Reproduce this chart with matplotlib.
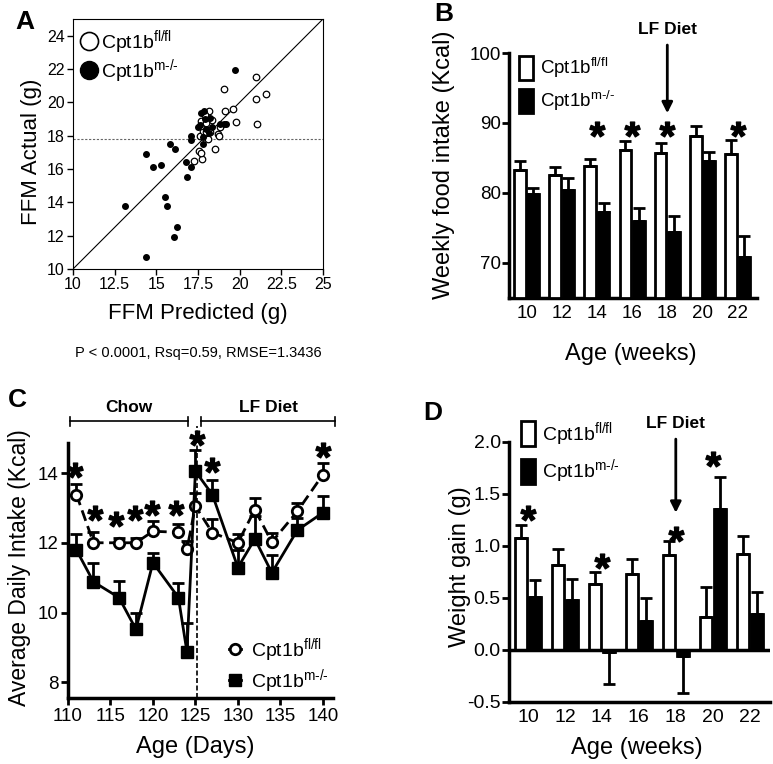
import matplotlib
matplotlib.use('Agg')
import matplotlib.pyplot as plt
import numpy as np
from matplotlib.lines import Line2D
from matplotlib.patches import Patch

plt.rcParams['font.family'] = 'Liberation Sans'
plt.rcParams['mathtext.fontset'] = 'custom'
plt.rcParams['mathtext.rm'] = 'Liberation Sans'
plt.rcParams['mathtext.it'] = 'Liberation Sans:italic'
plt.rcParams['mathtext.bf'] = 'Liberation Sans:bold'
plt.rcParams['axes.unicode_minus'] = False

WT = r'Cpt1b$^{\mathregular{fl/fl}}$'
KO = r'Cpt1b$^{\mathregular{m\text{-}/\text{-}}}$'

# A: FFM predicted vs actual
a_wt_x = [20.96, 19.04, 21.56, 20.96, 19.6, 19.1, 19.76, 21.06, 18.14, 18.5, 17.74, 17.24, 17.56, 17.68,
          18.7, 18.76, 18.1, 17.6, 17.8, 18.0, 18.2, 17.66, 18.32, 18.8, 17.7, 18.0, 17.94]
a_wt_y = [21.5, 20.8, 20.5, 20.2, 19.6, 19.5, 18.8, 18.7, 19.5, 17.2, 16.6, 16.5, 17.1, 16.96,
          18.1, 18.0, 17.8, 17.96, 18.3, 18.2, 18.2, 18.9, 18.96, 18.5, 18.6, 18.76, 19.24]
a_ko_x = [19.7, 13.1, 14.4, 14.8, 15.26, 15.84, 16.1, 15.5, 15.66, 16.22, 16.04, 14.36, 16.8, 17.06, 16.86,
          17.1, 17.06, 17.5, 17.7, 17.84, 17.9, 18.0, 18.2, 18.36, 17.8, 17.8, 18.8, 19.04, 19.16, 17.6, 18.16]
a_ko_y = [21.92, 13.8, 16.9, 16.1, 16.22, 17.5, 17.2, 14.32, 13.8, 12.5, 11.9, 10.7, 16.4, 16.1, 15.5,
          18.0, 17.76, 18.5, 19.36, 19.46, 19.0, 18.4, 19.06, 18.52, 17.5, 17.9, 18.7, 18.7, 18.7, 18.66, 18.16]
a_mean_y = 17.8

# B: weekly food intake
weeks = [10, 12, 14, 16, 18, 20, 22]
b_wt = [83.3, 82.6, 83.8, 86.1, 85.7, 88.2, 85.6]
b_wt_err = [1.2, 1.1, 1.1, 1.3, 1.4, 1.3, 1.9]
b_ko = [79.8, 80.4, 77.3, 76.0, 74.4, 84.6, 70.8]
b_ko_err = [0.9, 1.7, 1.3, 1.8, 2.3, 1.3, 3.1]
b_star_x = [14, 16, 18, 22]
b_star_y = [89.2, 89.2, 89.2, 89.2]

# C: average daily intake
days = [111, 113, 116, 118, 120, 123, 124, 125, 127, 130, 132, 134, 137, 140]
c_wt = [13.38, 12.0, 12.0, 12.0, 12.33, 12.3, 11.81, 13.05, 12.29, 12.0, 12.95, 12.02, 12.9, 13.95]
c_wt_err = [0.3, 0.3, 0.15, 0.15, 0.3, 0.25, 0.25, 0.38, 0.38, 0.24, 0.33, 0.27, 0.24, 0.33]
c_ko = [11.79, 10.88, 10.43, 9.52, 11.43, 10.43, 8.88, 14.05, 13.38, 11.29, 12.11, 11.14, 12.36, 12.86]
c_ko_err = [0.45, 0.55, 0.48, 0.48, 0.28, 0.43, 0.83, 0.62, 0.43, 0.5, 0.65, 0.5, 0.35, 0.47]
c_star_x = [110.8, 113.2, 115.7, 117.9, 119.9, 122.7, 125.2, 127.0, 140]
c_star_y = [14.1, 12.86, 12.67, 12.86, 13.0, 13.0, 15.0, 14.24, 14.67]
diet_switch = 125.2

# D: weight gain
d_wt = [1.08, 0.82, 0.63, 0.73, 0.91, 0.32, 0.92]
d_wt_err = [0.12, 0.15, 0.12, 0.145, 0.135, 0.29, 0.18]
d_ko = [0.51, 0.48, -0.02, 0.28, -0.06, 1.36, 0.35]
d_ko_err = [0.16, 0.20, 0.31, 0.22, 0.35, 0.30, 0.21]
d_star_x = [10, 14, 18, 20]
d_star_y = [1.32, 0.86, 1.12, 1.84]

W, H = 773, 764
fig = plt.figure(figsize=(W / 100, H / 100), dpi=100)


def box(l, t, r, b):
    return [l / W, 1 - b / H, (r - l) / W, (b - t) / H]


def stars(ax, xs, ys):
    ax.plot(xs, ys, ls='none', marker=r'$\mathbf{*}$', ms=11, color='k', clip_on=False, zorder=6)


def bars(ax, base, wt, wt_err, ko, ko_err):
    x = np.array(weeks, dtype=float)
    off, w = 0.38, 0.66
    for vals, errs, fc, xx in [(wt, wt_err, 'white', x - off), (ko, ko_err, 'black', x + off)]:
        vals = np.array(vals)
        errs = np.array(errs)
        ax.bar(xx, vals - base, w, bottom=base, facecolor=fc, edgecolor='k', linewidth=2, zorder=3)
        lo = np.where(vals < 0, errs, 0)
        hi = np.where(vals >= 0, errs, 0)
        ax.errorbar(xx, vals, yerr=[lo, hi], fmt='none', ecolor='k', elinewidth=2,
                    capsize=4, capthick=2, zorder=4)


def thick_axes(ax):
    for s in ['top', 'right']:
        ax.spines[s].set_visible(False)
    for s in ['left', 'bottom']:
        ax.spines[s].set_linewidth(2.5)


# ---- A ----
axA = fig.add_axes(box(73, 19, 323, 269))
axA.plot([10, 25], [10, 25], color='k', lw=0.8)
axA.axhline(a_mean_y, color='0.4', lw=0.8, ls=(0, (2, 1.5)))
axA.scatter(a_wt_x, a_wt_y, s=22, facecolor='white', edgecolor='k', linewidth=0.9, zorder=3)
axA.scatter(a_ko_x, a_ko_y, s=16, color='k', zorder=4)
axA.set_xlim(10, 25)
axA.set_ylim(10, 25)
axA.set_xticks([10, 12.5, 15, 17.5, 20, 22.5, 25])
axA.set_xticklabels(['10', '12.5', '15', '17.5', '20', '22.5', '25'])
axA.set_yticks(range(10, 25, 2))
axA.tick_params(direction='out', length=4, width=1, labelsize=11.5, pad=2)
axA.set_xlabel('FFM Predicted (g)', fontsize=16)
axA.set_ylabel('FFM Actual (g)', fontsize=16)
axA.xaxis.set_label_coords(0.5, -0.135)
axA.yaxis.set_label_coords(-0.125, 0.47)
hA = [Line2D([], [], ls='none', marker='o', ms=13, mfc='white', mec='k', mew=1.2),
      Line2D([], [], ls='none', marker='o', ms=13, mfc='k', mec='k')]
axA.legend(hA, [WT, KO], loc='upper left', bbox_to_anchor=(-0.03, 1.01), frameon=False, fontsize=14,
           handletextpad=0.05, labelspacing=0.05, borderaxespad=0.2, handlelength=1.2)
fig.text(198 / W, 1 - 353 / H, 'P < 0.0001, Rsq=0.59, RMSE=1.3436', ha='center', va='center', fontsize=10.5)

# ---- B ----
axB = fig.add_axes(box(509, 53, 757, 298))
bars(axB, 65, b_wt, b_wt_err, b_ko, b_ko_err)
stars(axB, b_star_x, b_star_y)
axB.set_xlim(9.0, 23.1)
axB.set_ylim(65, 100)
axB.set_xticks(weeks)
axB.set_yticks([70, 80, 90, 100])
thick_axes(axB)
axB.tick_params(axis='y', direction='out', length=5, width=2, labelsize=13.5, pad=1)
axB.tick_params(axis='x', length=0, labelsize=13.5, pad=5)
axB.set_xlabel('Age (weeks)', fontsize=17)
axB.set_ylabel('Weekly food intake (Kcal)', fontsize=17)
axB.xaxis.set_label_coords(0.49, -0.185)
axB.yaxis.set_label_coords(-0.218, 0.545)
axB.annotate('LF Diet', xy=(18, 91.4), xytext=(18, 103.4), ha='center', va='center', fontsize=12.5,
             fontweight='bold', annotation_clip=False,
             arrowprops=dict(arrowstyle='-|>', color='k', lw=2, mutation_scale=16, shrinkA=4, shrinkB=0))
hB = [Patch(facecolor='white', edgecolor='k', linewidth=2), Patch(facecolor='k', edgecolor='k', linewidth=2)]
axB.legend(hB, [WT, KO], loc='upper left', bbox_to_anchor=(-0.005, 1.035), frameon=False, fontsize=13.5,
           handlelength=0.75, handleheight=1.6, handletextpad=0.35, labelspacing=0.5, borderaxespad=0.2)

# ---- C ----
axC = fig.add_axes(box(68, 443, 333, 698))
axC.errorbar(days, c_wt, yerr=[np.zeros(len(c_wt)), c_wt_err], fmt='none', ecolor='k', elinewidth=2,
             capsize=4, capthick=2, zorder=3)
axC.errorbar(days, c_ko, yerr=[np.zeros(len(c_ko)), c_ko_err], fmt='none', ecolor='k', elinewidth=2,
             capsize=4, capthick=2, zorder=3)
axC.plot(days, c_wt, color='k', lw=2, ls=(0, (4, 2)), marker='o', ms=7.5, mfc='white', mec='k', mew=2,
         zorder=4)
axC.plot(days, c_ko, color='k', lw=2, marker='s', ms=8, mfc='k', mec='k', zorder=4)
axC.plot([diet_switch, diet_switch], [7.55, 15.35], color='k', lw=1.2, ls=(0, (3, 1.5)), clip_on=False)
stars(axC, c_star_x, c_star_y)
axC.set_xlim(110, 141.2)
axC.set_ylim(7.55, 14.86)
axC.set_xticks(range(110, 141, 5))
axC.set_yticks([8, 10, 12, 14])
thick_axes(axC)
axC.tick_params(direction='out', length=5, width=2, labelsize=13.5, pad=2)
axC.set_xlabel('Age (Days)', fontsize=17)
axC.set_ylabel('Average Daily Intake (Kcal)', fontsize=16.5)
axC.xaxis.set_label_coords(0.48, -0.15)
axC.yaxis.set_label_coords(-0.14, 0.51)
for x0, x1, label in [(110.2, 124.1, 'Chow'), (125.7, 141.4, 'LF Diet')]:
    axC.plot([x0, x1], [15.48, 15.48], color='k', lw=1.2, clip_on=False)
    axC.plot([x0, x0], [15.36, 15.6], color='k', lw=1.2, clip_on=False)
    axC.plot([x1, x1], [15.36, 15.6], color='k', lw=1.2, clip_on=False)
    axC.text((x0 + x1) / 2, 15.88, label, ha='center', va='center', fontsize=12.5, fontweight='bold')
hC = [Line2D([], [], color='k', lw=2, ls='-', marker='o', ms=7.5, mfc='white', mec='k', mew=2),
      Line2D([], [], color='k', lw=2, marker='s', ms=8, mfc='k', mec='k')]
axC.legend(hC, [WT, KO], loc='lower right', bbox_to_anchor=(1.05, -0.055), frameon=False, fontsize=14,
           handlelength=0.6, handletextpad=0.5, labelspacing=0.15)

# ---- D ----
axD = fig.add_axes(box(509, 442, 770, 702))
bars(axD, 0, d_wt, d_wt_err, d_ko, d_ko_err)
axD.axhline(0, color='k', lw=2.5, zorder=5)
stars(axD, d_star_x, d_star_y)
axD.set_xlim(8.97, 23.1)
axD.set_ylim(-0.5, 2.0)
axD.set_xticks(weeks)
axD.set_yticks([-0.5, 0, 0.5, 1.0, 1.5, 2.0])
axD.set_yticklabels(['-0.5', '0.0', '0.5', '1.0', '1.5', '2.0'])
thick_axes(axD)
axD.tick_params(axis='y', direction='out', length=5, width=2, labelsize=14, pad=1)
axD.tick_params(axis='x', length=0, labelsize=14, pad=5)
axD.set_xlabel('Age (weeks)', fontsize=17)
axD.set_ylabel('Weight gain (g)', fontsize=17)
axD.xaxis.set_label_coords(0.49, -0.135)
axD.yaxis.set_label_coords(-0.146, 0.52)
axD.annotate('LF Diet', xy=(18, 1.32), xytext=(18, 2.18), ha='center', va='center', fontsize=12.5,
             fontweight='bold', annotation_clip=False,
             arrowprops=dict(arrowstyle='-|>', color='k', lw=2, mutation_scale=16, shrinkA=4, shrinkB=0))
axD.legend(hB, [WT, KO], loc='upper left', bbox_to_anchor=(0.0, 1.13), frameon=False, fontsize=14,
           handlelength=0.75, handleheight=1.6, handletextpad=0.35, labelspacing=0.5, borderaxespad=0.2)

# panel letters
for lx, ly, letter in [(25, 22, 'A'), (444, 14, 'B'), (17, 400, 'C'), (433, 413, 'D')]:
    fig.text(lx / W, 1 - ly / H, letter, ha='center', va='center', fontsize=19, fontweight='bold')

fig.savefig('out.png', dpi=100)
